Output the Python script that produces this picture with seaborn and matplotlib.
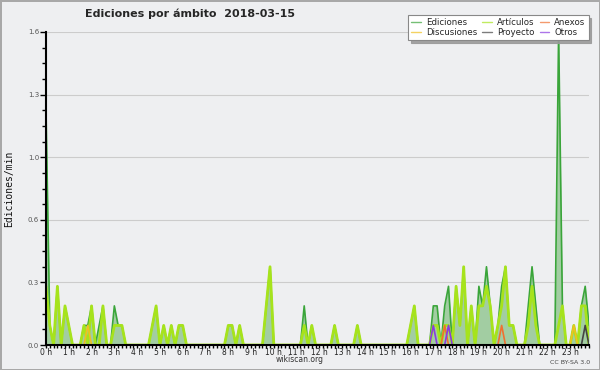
import numpy as np
import pandas as pd
import seaborn as sns
import matplotlib.pyplot as plt
from matplotlib.lines import Line2D
from matplotlib.ticker import FixedLocator, MultipleLocator, FuncFormatter

# edits per minute, 10-minute bins (6 per hour), 0:00 .. 23:50
ediciones = [
    1.2, 0.1, 0, 0.3, 0, 0.2,
    0.1, 0, 0, 0, 0.1, 0.1,
    0.2, 0, 0.1, 0.2, 0, 0,
    0.2, 0.1, 0.1, 0, 0, 0,
    0, 0, 0, 0, 0.1, 0.2,
    0, 0.1, 0, 0.1, 0, 0.1,
    0.1, 0, 0, 0, 0, 0,
    0, 0, 0, 0, 0, 0,
    0.1, 0.1, 0, 0.1, 0, 0,
    0, 0, 0, 0, 0.2, 0.4,
    0, 0, 0, 0, 0, 0,
    0, 0, 0.2, 0, 0.1, 0,
    0, 0, 0, 0, 0.1, 0,
    0, 0, 0, 0, 0.1, 0,
    0, 0, 0, 0, 0, 0,
    0, 0, 0, 0, 0, 0,
    0.1, 0.2, 0, 0, 0, 0,
    0.2, 0.2, 0, 0.2, 0.3, 0,
    0.3, 0.1, 0.4, 0, 0.2, 0,
    0.3, 0.2, 0.4, 0.2, 0, 0.1,
    0.3, 0.4, 0.1, 0.1, 0, 0,
    0, 0.2, 0.4, 0.2, 0, 0,
    0, 0, 0, 1.6, 0.2, 0,
    0, 0.1, 0, 0.2, 0.3, 0.1,
]
articulos = [
    0.3, 0.1, 0, 0.3, 0, 0.2,
    0.1, 0, 0, 0, 0.1, 0,
    0.2, 0, 0, 0.2, 0, 0,
    0.1, 0.1, 0.1, 0, 0, 0,
    0, 0, 0, 0, 0.1, 0.2,
    0, 0.1, 0, 0.1, 0, 0.1,
    0.1, 0, 0, 0, 0, 0,
    0, 0, 0, 0, 0, 0,
    0.1, 0.1, 0, 0.1, 0, 0,
    0, 0, 0, 0, 0.2, 0.4,
    0, 0, 0, 0, 0, 0,
    0, 0, 0.1, 0, 0.1, 0,
    0, 0, 0, 0, 0.1, 0,
    0, 0, 0, 0, 0.1, 0,
    0, 0, 0, 0, 0, 0,
    0, 0, 0, 0, 0, 0,
    0.1, 0.2, 0, 0, 0, 0,
    0.1, 0.1, 0, 0.1, 0.1, 0,
    0.3, 0.1, 0.4, 0, 0.2, 0,
    0.2, 0.2, 0.3, 0.2, 0, 0.1,
    0.2, 0.4, 0.1, 0.1, 0, 0,
    0, 0.1, 0.3, 0.1, 0, 0,
    0, 0, 0, 0.1, 0.2, 0,
    0, 0.1, 0, 0.2, 0.2, 0,
]
# sparse namespaces: {bin: value}
discusiones = {11: 0.1, 139: 0.1}
anexos = {105: 0.1, 120: 0.1}
otros = {102: 0.1, 106: 0.1}
proyecto = {142: 0.1}

hour_labels = [f"{h} h" for h in range(24)]
y_ticks = [0, 0.32, 0.64, 0.96, 1.28, 1.6]

bins = np.arange(len(ediciones))
df = pd.DataFrame({"bin": bins, "Ediciones": ediciones, "Artículos": articulos})
for name, d in [("Discusiones", discusiones), ("Anexos", anexos),
                ("Otros", otros), ("Proyecto", proyecto)]:
    df[name] = [d.get(b, 0) for b in bins]

colors = {
    "Ediciones": "#3aa53a",
    "Artículos": "#a6e31c",
    "Anexos": "#f07030",
    "Discusiones": "#f0c020",
    "Proyecto": "#444444",
    "Otros": "#8a3be0",
}

sns.set_theme(style="ticks")
plt.rcParams["font.family"] = ["DejaVu Sans"]

bg = "#eeeff1"
fig = plt.figure(figsize=(6, 3.7), dpi=100, facecolor=bg,
                 edgecolor="#a8a8a8", linewidth=2)
ax = fig.add_axes([46 / 600, 25 / 370, 543 / 600, 313 / 370])
ax.set_facecolor(bg)

ax.fill_between(df["bin"], df["Ediciones"], color="#a2cda2", lw=0, zorder=1)
sns.lineplot(data=df, x="bin", y="Ediciones", color=colors["Ediciones"],
             lw=1.2, ax=ax, zorder=2)
sns.lineplot(data=df, x="bin", y="Artículos", color=colors["Artículos"],
             lw=2, ax=ax, zorder=3)
for name in ["Discusiones", "Proyecto", "Anexos", "Otros"]:
    sns.lineplot(data=df, x="bin", y=name, color=colors[name],
                 lw=1.2, ax=ax, zorder=4)

ax.set_xlim(0, len(bins) - 1)
ax.set_ylim(0, 1.6)

ax.xaxis.set_major_locator(FixedLocator(np.arange(0, len(bins), 6)))
ax.xaxis.set_minor_locator(MultipleLocator(1))
ax.set_xticklabels(hour_labels)
ax.yaxis.set_major_locator(FixedLocator(y_ticks))
ax.yaxis.set_minor_locator(MultipleLocator(0.08))
ax.yaxis.set_major_formatter(FuncFormatter(lambda v, p: f"{v:.1f}"))

ax.tick_params(axis="x", which="both", direction="out", length=2, width=1,
               color="black", labelsize=5.5, labelcolor="#222222", pad=0)
ax.tick_params(axis="y", which="major", direction="out", length=4, width=1,
               color="black", labelsize=5, labelcolor="#555555", pad=1)
ax.tick_params(axis="y", which="minor", direction="out", length=3, width=1,
               color="black")

ax.grid(axis="y", which="major", color="#cccccc", lw=0.8)
ax.set_axisbelow(True)
sns.despine(ax=ax)
for s in ["left", "bottom"]:
    ax.spines[s].set_color("black")
    ax.spines[s].set_linewidth(1.5)
    ax.spines[s].set_zorder(5)

ax.set_xlabel("")
ax.set_ylabel("Ediciones/min", family="DejaVu Sans Mono", fontsize=7,
              color="#111111")
ax.yaxis.set_label_coords(-0.058, 0.5)

fig.text(85 / 600, 1 - 14 / 370, "Ediciones por ámbito  2018-03-15",
         fontsize=8, fontweight="bold", ha="left", va="center")
fig.text(0.5, 1 - 360 / 370, "wikiscan.org", fontsize=5.5, color="#333333",
         ha="center", va="center")
fig.text(590 / 600, 1 - 362 / 370, "CC BY-SA 3.0", fontsize=4.5,
         color="#444444", ha="right", va="center")

order = ["Ediciones", "Discusiones", "Artículos", "Proyecto", "Anexos", "Otros"]
handles = [Line2D([], [], color=colors[n], lw=1, alpha=0.7) for n in order]
leg = fig.legend(handles, order, ncol=3, loc="upper right",
                 bbox_to_anchor=(593 / 600, 1 - 11 / 370),
                 fontsize=6.2, frameon=True, fancybox=False,
                 shadow={"color": "#9a9a9a", "alpha": 0.9},
                 facecolor="white", edgecolor="#888888", framealpha=1,
                 handlelength=1.1, handletextpad=0.6, columnspacing=0.6,
                 labelspacing=0.1, borderpad=0.35)
leg.get_frame().set_linewidth(0.8)

fig.savefig("out.png", dpi=100, facecolor=bg, edgecolor="#a8a8a8")
